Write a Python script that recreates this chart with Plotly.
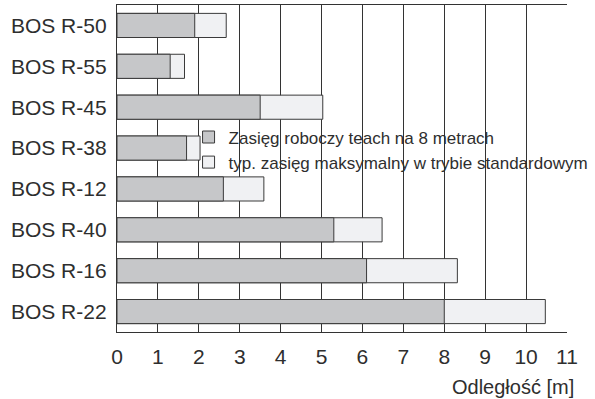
import plotly.graph_objects as go

categories = ["BOS R-50", "BOS R-55", "BOS R-45", "BOS R-38", "BOS R-12", "BOS R-40", "BOS R-16", "BOS R-22"]
working_range = [1.9, 1.3, 3.5, 1.7, 2.6, 5.3, 6.1, 8.0]
max_range = [2.67, 1.65, 5.03, 2.03, 3.59, 6.48, 8.32, 10.47]
x_ticks = list(range(0, 12))
name_work = "Zasięg roboczy teach na 8 metrach"
name_max = "typ. zasięg maksymalny w trybie standardowym"

FONT = "Liberation Sans"
TXT = "#2e2e2e"
EDGE = "#3a3a3a"

fig = go.Figure()
fig.add_trace(go.Bar(
    y=categories, x=max_range, orientation="h", name=name_max,
    marker=dict(color="#f0f1f3", line=dict(color=EDGE, width=1)),
    width=0.59, legendrank=2,
))
fig.add_trace(go.Bar(
    y=categories, x=working_range, orientation="h", name=name_work,
    marker=dict(color="#c6c7c9", line=dict(color=EDGE, width=1)),
    width=0.59, legendrank=1,
))

fig.update_layout(
    width=595, height=399,
    margin=dict(l=117, r=28, t=5, b=67, autoexpand=False),
    barmode="overlay",
    plot_bgcolor="white", paper_bgcolor="white",
    font=dict(family=FONT, color=TXT),
    showlegend=True,
    legend=dict(
        x=0.159, y=0.65, xanchor="left", yanchor="top",
        bgcolor="rgba(0,0,0,0)", borderwidth=0,
        font=dict(family=FONT, size=17, color=TXT),
        itemwidth=30, tracegroupgap=0,
    ),
    shapes=[dict(
        type="rect", xref="paper", yref="paper",
        x0=0.1844, x1=1.01, y0=0.489, y1=0.639,
        fillcolor="white", line=dict(width=0), layer="between",
    )],
)
fig.update_xaxes(
    range=[0, 11], tickvals=x_ticks, ticktext=[str(v) for v in x_ticks],
    showgrid=True, gridcolor="#333333", gridwidth=1,
    showline=True, linecolor="#333333", linewidth=1.3, mirror=True,
    zeroline=False, ticks="",
    tickfont=dict(family=FONT, size=21, color=TXT),
    ticklabelstandoff=6,
)
fig.update_yaxes(
    categoryorder="array", categoryarray=categories,
    range=[7.5, -0.5],
    showgrid=False, showline=True, linecolor="#333333", linewidth=1.3,
    ticks="", ticklabelstandoff=5, automargin=False,
    tickfont=dict(family=FONT, size=21, color=TXT),
)
fig.add_annotation(
    text="Odległość [m]", xref="paper", yref="paper",
    x=1.02, y=0, xanchor="right", yanchor="top", yshift=-42,
    showarrow=False, font=dict(family=FONT, size=20, color=TXT),
)

fig.write_html("out.html", config={"displayModeBar": False},
               post_script="document.body.style.margin='0';")
